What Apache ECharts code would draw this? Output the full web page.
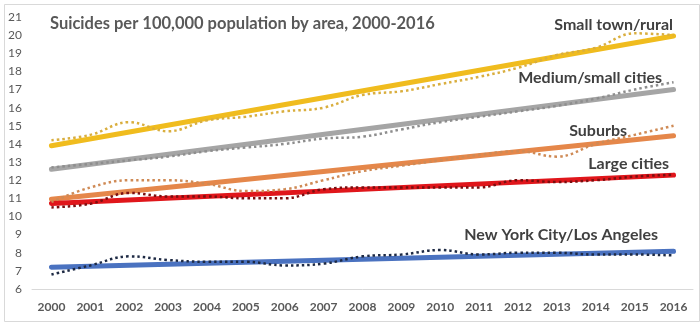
<!DOCTYPE html>
<html>
<head>
<meta charset="utf-8">
<script src="https://cdn.jsdelivr.net/npm/echarts@6/dist/echarts.min.js"></script>
<style>
html,body{margin:0;padding:0;background:#fff;}
#c{width:700px;height:322px;}
</style>
</head>
<body>
<div id="c"></div>
<script>
const years = ['2000','2001','2002','2003','2004','2005','2006','2007','2008','2009','2010','2011','2012','2013','2014','2015','2016'];
const yTicks = [6,7,8,9,10,11,12,13,14,15,16,17,18,19,20,21];

const seriesNames = ['Small town/rural','Medium/small cities','Suburbs','Large cities','New York City/Los Angeles'];

// observed (dotted) values
const smallTown = [14.2,14.5,15.2,14.7,15.3,15.5,15.8,16.0,16.7,16.9,17.3,17.7,18.2,18.9,19.3,20.1,20.0];
const mediumCities = [12.7,12.9,13.1,13.3,13.6,13.8,14.0,14.3,14.4,14.8,15.2,15.5,15.8,16.1,16.5,17.0,17.4];
const suburbs = [10.8,11.6,12.0,12.0,11.8,11.4,11.5,12.0,12.5,12.8,13.1,13.4,13.6,13.3,14.0,14.5,15.0];
const largeCities = [10.5,10.7,11.3,11.1,11.1,11.0,11.0,11.5,11.6,11.6,11.6,11.6,12.0,11.9,12.0,12.2,12.3];
const nycLa = [6.8,7.3,7.8,7.6,7.5,7.5,7.3,7.4,7.8,7.9,8.15,7.9,8.0,8.0,7.9,7.9,7.85];

// linear trend lines: [value at 2000, value at 2016]
const trendSmallTown = [13.9,19.95];
const trendMediumCities = [12.6,17.0];
const trendSuburbs = [10.95,14.45];
const trendLargeCities = [10.72,12.28];
const trendNycLa = [7.2,8.08];

const trendColors = ['#F0BC1E','#A5A5A5','#E5874A','#E0161B','#4A72C0'];
const dotColors = ['#D9AE3E','#8E8E8E','#CF8A55','#7A0F10','#1E2A44'];

const observed = [smallTown, mediumCities, suburbs, largeCities, nycLa];
const trends = [trendSmallTown, trendMediumCities, trendSuburbs, trendLargeCities, trendNycLa];

function trendData(t){
  return years.map((y,i)=> i===0 ? t[0] : (i===years.length-1 ? t[1] : null));
}

const series = [];
trends.forEach((t,k)=>{
  series.push({
    name: seriesNames[k]+' trend', type:'line', data: trendData(t), connectNulls:true,
    symbol:'none', lineStyle:{color:trendColors[k], width:5, cap:'round'}, silent:true, z:2
  });
});
observed.forEach((d,k)=>{
  series.push({
    name: seriesNames[k], type:'line', data:d, smooth:0.4,
    symbol:'none', lineStyle:{color:dotColors[k], width:2.5, type:[2.5,3]}, silent:true, z:3
  });
});

const chart = echarts.init(document.getElementById('c'), null, {renderer:'canvas'});
const labelFont = 'Lato, "Open Sans", sans-serif';
const labelStyle = (txt,x,y)=>({type:'text', right:700-x, top:y-10, style:{text:txt, font:'bold 16px '+labelFont, fill:'#404040'}});

chart.setOption({
  animation:false,
  backgroundColor:'#fff',
  grid:{left:32, right:7, top:17, bottom:33, containLabel:false},
  xAxis:{
    type:'category', data:years, boundaryGap:true,
    axisLine:{lineStyle:{color:'#D9D9D9', width:1}},
    axisTick:{show:false},
    axisLabel:{color:'#595959', fontFamily:labelFont, fontWeight:'bold', fontSize:12, margin:12, interval:0}
  },
  yAxis:{
    type:'value', min:yTicks[0], max:yTicks[yTicks.length-1], interval:1,
    axisLine:{show:false}, axisTick:{show:false}, splitLine:{show:false},
    axisLabel:{color:'#595959', fontFamily:labelFont, fontSize:12, margin:10}
  },
  series: series,
  graphic:[
    {type:'rect', left:2, top:2, shape:{width:695, height:317}, style:{fill:'none', stroke:'#D9D9D9', lineWidth:1}, silent:true},
    {type:'text', left:50, top:15, style:{text:'Suicides per 100,000 population by area, 2000-2016', font:'bold 16.5px '+labelFont, fill:'#595959'}},
    labelStyle(seriesNames[0], 673, 27),
    labelStyle(seriesNames[1], 662, 80),
    labelStyle(seriesNames[2], 627, 133),
    labelStyle(seriesNames[3], 669, 166),
    labelStyle(seriesNames[4], 658, 237)
  ]
});
</script>
</body>
</html>
